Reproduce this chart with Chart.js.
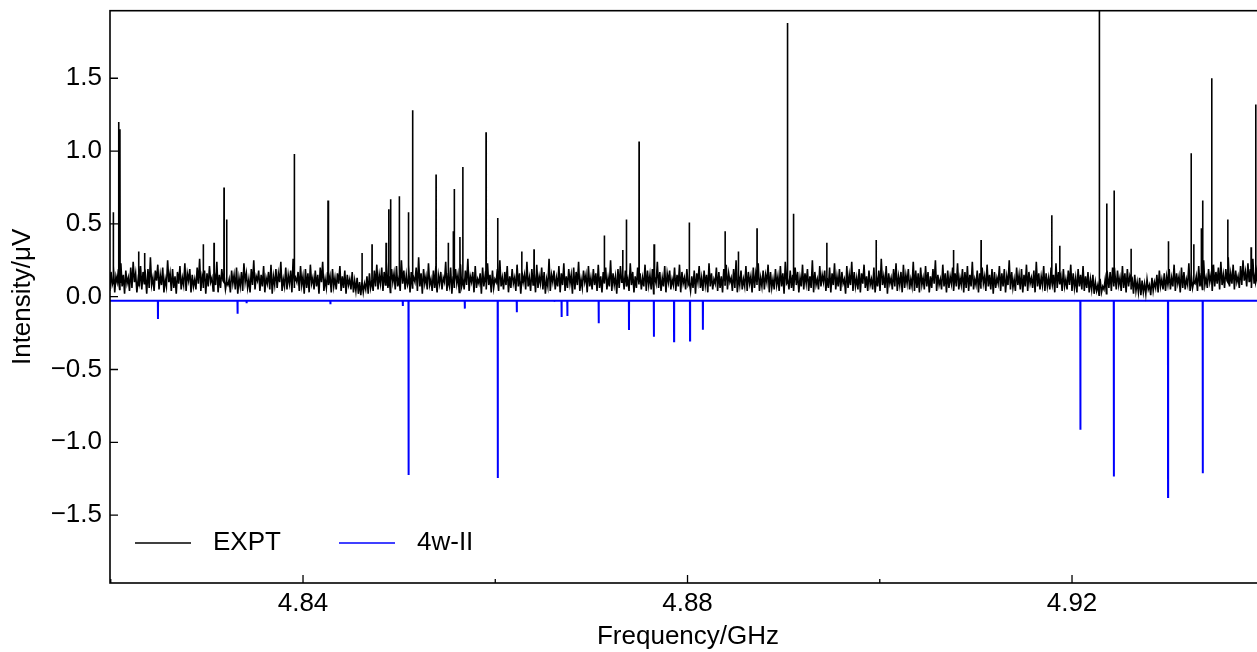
<!DOCTYPE html>
<html>
<head>
<meta charset="utf-8">
<script src="https://cdn.jsdelivr.net/npm/chart.js@4.4.1/dist/chart.umd.min.js"></script>
<style>
  html, body { margin: 0; padding: 0; background: #fff; overflow: hidden; }
  #wrap { width: 1257px; height: 652px; overflow: hidden; }
  canvas { display: block; }
</style>
</head>
<body>
<div id="wrap"><canvas id="spec" width="1270" height="652"></canvas></div>
<script>
// ---------------------------
// Axis limits and ticks
// ---------------------------
const X_MIN = 4.81992, X_MAX = 4.94018;
const Y_MIN = -1.966, Y_MAX = 1.964;
const xTicks = [4.84, 4.88, 4.92];
const xMinorTicks = [4.82, 4.86, 4.90, 4.94];
const yTicks = [-1.5, -1.0, -0.5, 0.0, 0.5, 1.0, 1.5];

// ---------------------------
// EXPT: baseline noise (sampled on a regular grid) + lines
// ---------------------------
const NOISE_START = 4.8199;
const NOISE_STEP = 0.000128;
const exptNoise = [
  0.04,0.17,0.08,0.21,0.03,0.14,0.10,0.19,0.05,0.23,0.07,0.15,0.02,0.18,0.09,0.13,0.04,0.20,0.06,0.24,
  0.10,0.16,0.03,0.12,0.07,0.21,0.05,0.17,0.09,0.14,0.02,0.19,0.06,0.27,0.08,0.13,0.04,0.18,0.11,0.22,
  0.05,0.15,0.08,0.20,0.03,0.12,0.07,0.25,0.10,0.16,0.04,0.19,0.06,0.14,0.02,0.17,0.09,0.21,0.05,0.13,
  0.08,0.23,0.04,0.16,0.11,0.19,0.03,0.15,0.07,0.12,0.05,0.20,0.09,0.26,0.04,0.14,0.06,0.18,0.02,0.16,
  0.07,0.21,0.10,0.13,0.04,0.17,0.08,0.24,0.03,0.15,0.06,0.19,0.11,0.14,0.05,0.22,0.08,0.12,0.03,0.18,
  0.09,0.15,0.05,0.20,0.02,0.13,0.07,0.17,0.04,0.23,0.10,0.16,0.06,0.12,0.03,0.19,0.08,0.25,0.05,0.14,
  0.11,0.18,0.04,0.15,0.07,0.21,0.03,0.13,0.09,0.17,0.05,0.22,0.02,0.14,0.08,0.19,0.06,0.16,0.10,0.24,
  0.04,0.12,0.07,0.20,0.05,0.15,0.09,0.18,0.03,0.26,0.06,0.13,0.10,0.17,0.04,0.21,0.08,0.14,0.02,0.19,
  0.06,0.16,0.03,0.22,0.09,0.13,0.05,0.18,0.07,0.15,0.02,0.20,0.10,0.24,0.04,0.12,0.06,0.17,0.08,0.14,
  0.03,0.19,0.07,0.13,0.05,0.16,0.09,0.21,0.04,0.14,0.06,0.18,0.02,0.15,0.08,0.12,0.05,0.17,0.03,0.11,
  0.04,0.13,0.02,0.10,0.01,0.12,0.03,0.09,0.05,0.14,0.02,0.16,0.06,0.11,0.04,0.18,0.07,0.22,0.05,0.15,
  0.09,0.20,0.04,0.17,0.08,0.24,0.06,0.14,0.03,0.19,0.10,0.16,0.05,0.21,0.07,0.13,0.04,0.25,0.09,0.18,
  0.05,0.15,0.08,0.22,0.03,0.17,0.06,0.13,0.10,0.20,0.04,0.27,0.07,0.16,0.02,0.19,0.09,0.14,0.05,0.23,
  0.08,0.12,0.04,0.18,0.06,0.21,0.03,0.15,0.09,0.17,0.05,0.13,0.10,0.24,0.04,0.16,0.07,0.20,0.02,0.14,
  0.06,0.19,0.09,0.15,0.03,0.22,0.07,0.13,0.05,0.18,0.08,0.26,0.04,0.14,0.10,0.17,0.03,0.21,0.06,0.12,
  0.09,0.16,0.02,0.20,0.07,0.14,0.05,0.23,0.08,0.15,0.03,0.18,0.06,0.12,0.10,0.19,0.04,0.25,0.07,0.13,
  0.05,0.17,0.08,0.21,0.03,0.14,0.06,0.19,0.09,0.13,0.04,0.22,0.07,0.16,0.02,0.18,0.10,0.15,0.05,0.24,
  0.07,0.13,0.04,0.19,0.08,0.16,0.03,0.22,0.06,0.14,0.09,0.20,0.05,0.17,0.02,0.12,0.07,0.26,0.04,0.15,
  0.10,0.18,0.05,0.13,0.07,0.21,0.03,0.16,0.08,0.23,0.04,0.14,0.06,0.19,0.09,0.15,0.02,0.20,0.05,0.17,
  0.08,0.24,0.04,0.12,0.06,0.18,0.10,0.15,0.03,0.21,0.07,0.13,0.05,0.19,0.08,0.16,0.04,0.22,0.06,0.14,
  0.03,0.17,0.09,0.20,0.05,0.13,0.07,0.25,0.04,0.16,0.08,0.14,0.02,0.19,0.06,0.21,0.10,0.15,0.05,0.18,
  0.07,0.12,0.04,0.23,0.08,0.17,0.03,0.14,0.06,0.20,0.09,0.16,0.05,0.13,0.07,0.22,0.04,0.18,0.08,0.15,
  0.05,0.19,0.02,0.14,0.09,0.24,0.06,0.17,0.04,0.13,0.07,0.21,0.03,0.16,0.10,0.18,0.05,0.12,0.08,0.20,
  0.04,0.15,0.07,0.22,0.03,0.17,0.09,0.13,0.05,0.19,0.08,0.26,0.04,0.14,0.06,0.18,0.02,0.16,0.10,0.21,
  0.06,0.13,0.04,0.18,0.08,0.15,0.03,0.23,0.07,0.16,0.05,0.12,0.09,0.20,0.04,0.17,0.06,0.14,0.03,0.19,
  0.08,0.22,0.05,0.16,0.10,0.13,0.04,0.19,0.06,0.25,0.03,0.15,0.08,0.18,0.05,0.12,0.07,0.21,0.04,0.17,
  0.09,0.14,0.03,0.20,0.06,0.16,0.08,0.23,0.04,0.13,0.07,0.18,0.05,0.15,0.10,0.22,0.03,0.17,0.06,0.12,
  0.05,0.19,0.08,0.14,0.04,0.21,0.07,0.16,0.02,0.24,0.09,0.13,0.05,0.18,0.06,0.15,0.04,0.20,0.08,0.17,
  0.03,0.13,0.07,0.22,0.05,0.16,0.09,0.19,0.04,0.14,0.06,0.25,0.03,0.17,0.08,0.12,0.05,0.21,0.07,0.15,
  0.10,0.18,0.04,0.13,0.06,0.20,0.03,0.16,0.08,0.23,0.05,0.14,0.07,0.19,0.04,0.17,0.09,0.12,0.02,0.21,
  0.06,0.15,0.08,0.24,0.04,0.17,0.07,0.13,0.05,0.19,0.03,0.16,0.09,0.22,0.06,0.14,0.04,0.18,0.08,0.12,
  0.05,0.20,0.03,0.15,0.07,0.18,0.04,0.26,0.08,0.14,0.06,0.21,0.02,0.16,0.09,0.13,0.05,0.19,0.07,0.23,
  0.04,0.14,0.08,0.17,0.03,0.22,0.06,0.15,0.09,0.19,0.05,0.12,0.07,0.24,0.04,0.18,0.06,0.16,0.03,0.20,
  0.08,0.13,0.05,0.21,0.07,0.17,0.03,0.14,0.06,0.19,0.09,0.25,0.04,0.15,0.08,0.12,0.05,0.22,0.07,0.16,
  0.03,0.18,0.06,0.14,0.09,0.20,0.04,0.16,0.07,0.23,0.05,0.13,0.08,0.19,0.03,0.17,0.06,0.21,0.04,0.15,
  0.07,0.24,0.05,0.12,0.08,0.18,0.03,0.16,0.06,0.20,0.09,0.14,0.04,0.22,0.07,0.15,0.05,0.19,0.02,0.17,
  0.06,0.13,0.09,0.21,0.04,0.16,0.07,0.19,0.03,0.14,0.08,0.25,0.05,0.17,0.06,0.12,0.04,0.20,0.08,0.15,
  0.05,0.19,0.03,0.15,0.07,0.22,0.04,0.17,0.09,0.13,0.06,0.18,0.03,0.24,0.07,0.16,0.05,0.14,0.08,0.21,
  0.04,0.16,0.07,0.13,0.05,0.20,0.08,0.15,0.03,0.23,0.06,0.17,0.09,0.14,0.04,0.19,0.07,0.12,0.05,0.18,
  0.08,0.22,0.04,0.16,0.06,0.13,0.03,0.19,0.07,0.15,0.05,0.21,0.04,0.14,0.06,0.17,0.03,0.12,0.05,0.15,
  0.02,0.10,0.04,0.08,0.01,0.11,0.03,0.07,0.05,0.12,0.02,0.14,0.06,0.17,0.04,0.20,0.07,0.15,0.05,0.18,
  0.08,0.13,0.04,0.21,0.06,0.16,0.03,0.19,0.07,0.14,0.05,0.12,0.02,0.15,0.04,0.10,0.03,0.13,0.01,0.11,
  0.03,0.09,0.02,0.12,0.05,0.08,0.01,0.13,0.04,0.10,0.06,0.15,0.03,0.18,0.07,0.12,0.05,0.16,0.04,0.14,
  0.08,0.19,0.05,0.13,0.07,0.22,0.04,0.16,0.09,0.14,0.03,0.20,0.06,0.17,0.05,0.12,0.08,0.23,0.04,0.15,
  0.06,0.18,0.09,0.14,0.04,0.21,0.07,0.16,0.05,0.25,0.08,0.13,0.06,0.19,0.10,0.15,0.04,0.22,0.07,0.17,
  0.09,0.20,0.05,0.24,0.08,0.15,0.06,0.19,0.11,0.27,0.07,0.16,0.09,0.22,0.05,0.18,0.10,0.14,0.06,0.21,
  0.08,0.25,0.11,0.17,0.07,0.23,0.10,0.19,0.06,0.26,0.09,0.15,0.12,0.22,0.08,0.18,0.05,0.24,0.10,0.20
];

const exptLineFreq = [
  4.82026, 4.82083, 4.82096, 4.82291, 4.82353, 4.82963, 4.83074, 4.83178, 4.83206, 4.83910,
  4.84260, 4.84614, 4.84718, 4.84864, 4.84892, 4.84912, 4.85002, 4.85096, 4.85141, 4.85384,
  4.85512, 4.85564, 4.85574, 4.85633, 4.85662, 4.85904, 4.86026, 4.86275, 4.86403, 4.87135,
  4.87326, 4.87364, 4.87496, 4.87652, 4.88019, 4.88391, 4.88529, 4.88723, 4.89039, 4.89101,
  4.89449, 4.89962, 4.90766, 4.91054, 4.91790, 4.91873, 4.92285, 4.92362, 4.92438, 4.92615,
  4.93003, 4.93239, 4.93267, 4.93346, 4.93360, 4.93454, 4.93621, 4.93863, 4.93912
];
const exptLineInt = [
  0.58, 1.20, 1.15, 0.31, 0.30, 0.36, 0.37, 0.75, 0.53, 0.98,
  0.66, 0.30, 0.36, 0.37, 0.60, 0.67, 0.69, 0.58, 1.28, 0.84,
  0.37, 0.45, 0.74, 0.41, 0.89, 1.13, 0.54, 0.31, 0.325, 0.42,
  0.32, 0.53, 1.065, 0.36, 0.51, 0.45, 0.31, 0.47, 1.88, 0.57,
  0.37, 0.39, 0.32, 0.39, 0.56, 0.35, 2.30, 0.64, 0.73, 0.33,
  0.38, 0.985, 0.36, 0.47, 0.66, 1.50, 0.53, 0.34, 1.32
];
const EXPT_FOOT = 0.10;

// ---------------------------
// 4w-II: predicted stick spectrum (plotted downward)
// ---------------------------
const CALC_BASE = -0.028;
const calcFreq = [
  4.82491, 4.83319, 4.83413, 4.84285, 4.85038, 4.85098, 4.85683, 4.86026, 4.86224, 4.86619,
  4.86690, 4.86750, 4.87076, 4.87391, 4.87650, 4.87860, 4.88026, 4.88160,
  4.92087, 4.92435, 4.92999, 4.93360
];
const calcInt = [
  -0.153, -0.117, -0.045, -0.052, -0.064, -1.225, -0.082, -1.245, -0.107, -0.035,
  -0.139, -0.133, -0.183, -0.229, -0.275, -0.306, -0.300, -0.227,
  -0.913, -1.234, -1.376, -1.213
];

const HALF_W = 0.000012; // half width of a line in GHz

function buildExpt() {
  const pts = exptNoise.map((v, i) => ({ x: NOISE_START + i * NOISE_STEP, y: v }));
  exptLineFreq.forEach((f, i) => {
    pts.push({ x: f - HALF_W, y: EXPT_FOOT }, { x: f, y: exptLineInt[i] }, { x: f + HALF_W, y: EXPT_FOOT });
  });
  return pts.sort((a, b) => a.x - b.x);
}

function buildCalc() {
  const pts = [{ x: X_MIN - 0.001, y: CALC_BASE }];
  calcFreq.forEach((f, i) => {
    pts.push({ x: f - HALF_W, y: CALC_BASE }, { x: f, y: calcInt[i] }, { x: f + HALF_W, y: CALC_BASE });
  });
  pts.push({ x: X_MAX + 0.001, y: CALC_BASE });
  return pts;
}

// ---------------------------
// Frame, inward ticks and legend
// ---------------------------
const framePlugin = {
  id: "frame",
  afterDraw(chart) {
    const { ctx, chartArea: a, scales: { x, y } } = chart;
    ctx.save();
    ctx.strokeStyle = "#000";
    ctx.lineWidth = 1.3;
    ctx.beginPath();
    xTicks.forEach(v => {
      const px = x.getPixelForValue(v);
      ctx.moveTo(px, a.bottom); ctx.lineTo(px, a.bottom - 8);
    });
    xMinorTicks.forEach(v => {
      const px = x.getPixelForValue(v);
      ctx.moveTo(px, a.bottom); ctx.lineTo(px, a.bottom - 4);
    });
    yTicks.forEach(v => {
      const py = y.getPixelForValue(v);
      ctx.moveTo(a.left, py); ctx.lineTo(a.left + 8, py);
    });
    ctx.stroke();

    ctx.lineWidth = 1.6;
    ctx.strokeRect(a.left, a.top, a.right - a.left, a.bottom - a.top);

    // legend, lower left inside the axes
    const ly = a.bottom - 40;
    const starts = [a.left + 25, a.left + 229];
    ctx.font = "26px 'Liberation Sans', Arial, sans-serif";
    ctx.textBaseline = "middle";
    ctx.textAlign = "left";
    chart.data.datasets.forEach((ds, i) => {
      const x0 = starts[i];
      ctx.strokeStyle = ds.borderColor;
      ctx.lineWidth = 1.4;
      ctx.beginPath();
      ctx.moveTo(x0, ly); ctx.lineTo(x0 + 56, ly);
      ctx.stroke();
      ctx.fillStyle = "#000";
      ctx.fillText(ds.label, x0 + 78, ly);
    });
    ctx.restore();
  }
};

Chart.defaults.font.family = "'Liberation Sans', Arial, sans-serif";
Chart.defaults.color = "#000";

new Chart(document.getElementById("spec"), {
  type: "line",
  data: {
    datasets: [
      { label: "EXPT", data: buildExpt(), borderColor: "#000000", borderWidth: 1.6, pointRadius: 0, tension: 0, fill: false },
      { label: "4w-II", data: buildCalc(), borderColor: "#0000ff", borderWidth: 2.0, pointRadius: 0, tension: 0, fill: false }
    ]
  },
  options: {
    responsive: false,
    animation: false,
    events: [],
    parsing: false,
    normalized: true,
    layout: { padding: { top: 10.7, right: 4, left: 0, bottom: 0 } },
    plugins: { legend: { display: false }, tooltip: { enabled: false } },
    scales: {
      x: {
        type: "linear",
        min: X_MIN,
        max: X_MAX,
        grid: { display: false, drawTicks: false },
        border: { display: false },
        afterBuildTicks: s => { s.ticks = xTicks.map(v => ({ value: v })); },
        afterFit: s => { s.height = 69; s.paddingLeft = 0; s.paddingRight = 0; },
        ticks: { font: { size: 26 }, padding: 5, maxRotation: 0, autoSkip: false, callback: v => v.toFixed(2) },
        title: { display: true, text: "Frequency/GHz", font: { size: 26 }, padding: { top: 0, bottom: 0 } }
      },
      y: {
        type: "linear",
        min: Y_MIN,
        max: Y_MAX,
        grid: { display: false, drawTicks: false },
        border: { display: false },
        afterBuildTicks: s => { s.ticks = yTicks.map(v => ({ value: v })); },
        afterFit: s => { s.width = 110; s.paddingTop = 0; s.paddingBottom = 0; },
        ticks: { font: { size: 26 }, padding: 8, callback: v => v.toFixed(1).replace("-", "\u2212") },
        title: { display: true, text: "Intensity/\u03bcV", font: { size: 26 }, padding: { top: 7, bottom: 0 } }
      }
    }
  },
  plugins: [framePlugin]
});
</script>
</body>
</html>
